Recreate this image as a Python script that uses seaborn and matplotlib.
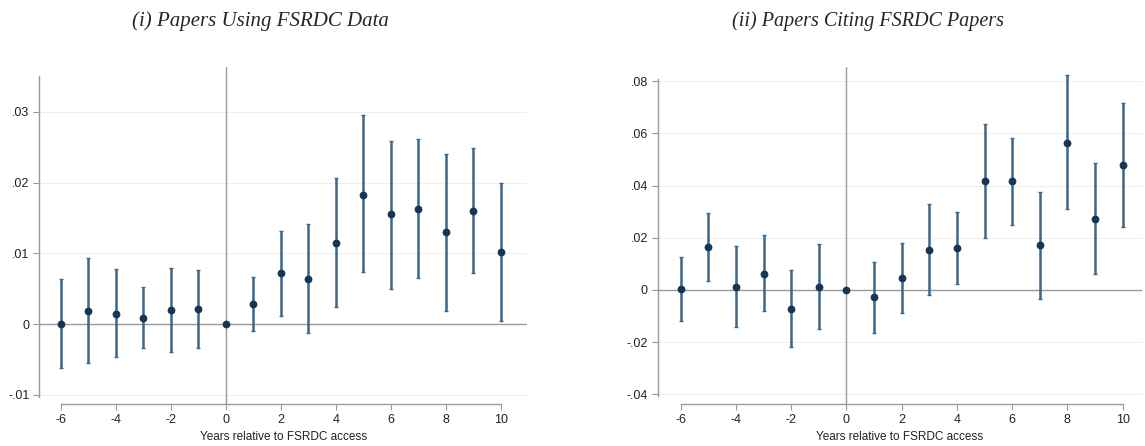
import numpy as np
import pandas as pd
import matplotlib
matplotlib.use("Agg")
import matplotlib.pyplot as plt
import seaborn as sns

years = [-6, -5, -4, -3, -2, -1, 0, 1, 2, 3, 4, 5, 6, 7, 8, 9, 10]

using_est = [0.0, 0.0019, 0.0015, 0.00085, 0.0020, 0.0021, 0.0, 0.0029, 0.0072,
             0.0064, 0.0115, 0.0183, 0.0155, 0.0163, 0.0130, 0.0160, 0.0102]
using_hi = [0.0064, 0.0093, 0.0078, 0.0052, 0.0079, 0.0076, 0.0, 0.0067, 0.0131,
            0.0141, 0.0207, 0.0295, 0.0259, 0.0261, 0.0240, 0.0249, 0.0200]
using_lo = [-0.0062, -0.0055, -0.0047, -0.0034, -0.0039, -0.0033, 0.0, -0.0009, 0.0012,
            -0.0013, 0.0024, 0.0073, 0.0050, 0.0065, 0.0019, 0.0072, 0.0005]

citing_est = [0.0003, 0.0165, 0.0013, 0.0063, -0.0073, 0.0013, 0.0, -0.0028, 0.0045,
              0.0154, 0.0160, 0.0417, 0.0416, 0.0171, 0.0564, 0.0274, 0.0479]
citing_hi = [0.0125, 0.0297, 0.0169, 0.0209, 0.0075, 0.0178, 0.0, 0.0106, 0.0179,
             0.0328, 0.0300, 0.0636, 0.0583, 0.0377, 0.0823, 0.0488, 0.0718]
citing_lo = [-0.0118, 0.0036, -0.0141, -0.0079, -0.0218, -0.0148, 0.0, -0.0164, -0.0088,
             -0.0020, 0.0023, 0.0198, 0.0248, -0.0033, 0.0310, 0.0060, 0.0242]

titles = ["(i) Papers Using FSRDC Data", "(ii) Papers Citing FSRDC Papers"]
xlabel = "Years relative to FSRDC access"
xticks = [-6, -4, -2, 0, 2, 4, 6, 8, 10]
yticks_left = [-0.01, 0, 0.01, 0.02, 0.03]
yticklabels_left = ["-.01", "0", ".01", ".02", ".03"]
yticks_right = [-0.04, -0.02, 0, 0.02, 0.04, 0.06, 0.08]
yticklabels_right = ["-.04", "-.02", "0", ".02", ".04", ".06", ".08"]

sns.set_theme(style="white")
plt.rcParams['font.family'] = ['Liberation Sans', 'DejaVu Sans']

fig = plt.figure(figsize=(11.45, 4.46), dpi=100)
ax1 = fig.add_axes([0.0343, 0.0942, 0.426, 0.7545])
ax2 = fig.add_axes([0.5744, 0.0942, 0.423, 0.7545])

AXC = "#9a9a9a"
BAR = "#3d6687"
DOT = "#143555"

panels = [
    (ax1, using_est, using_lo, using_hi, yticks_left, yticklabels_left,
     (-6.79, 10.95), (-0.01127, 0.03625), (-0.0103, 0.035)),
    (ax2, citing_est, citing_lo, citing_hi, yticks_right, yticklabels_right,
     (-6.83, 10.7), (-0.0437, 0.0853), (-0.0408, 0.0807)),
]

for i, (ax, est, lo, hi, yt, ytl, xl, yl, yb) in enumerate(panels):
    df = pd.DataFrame({"year": years, "est": est, "lo": lo, "hi": hi})
    for y in yt:
        ax.axhline(y, color="#efefef", lw=0.8, zorder=0)
    ax.axhline(0, color=AXC, lw=1.0, zorder=1)
    ax.axvline(0, color=AXC, lw=1.0, zorder=1)
    ax.errorbar(df["year"], df["est"],
                yerr=[df["est"] - df["lo"], df["hi"] - df["est"]],
                fmt="none", ecolor=BAR, elinewidth=1.8, capsize=1.6,
                capthick=1.0, zorder=2)
    sns.scatterplot(data=df, x="year", y="est", ax=ax, color=DOT, s=26,
                    edgecolor=DOT, linewidth=0.5, zorder=3, legend=False)
    ax.set_xlim(*xl)
    ax.set_ylim(*yl)
    ax.set_xticks(xticks)
    ax.set_xticklabels([str(t) for t in xticks])
    ax.set_yticks(yt)
    ax.set_yticklabels(ytl)
    for s in ["top", "right"]:
        ax.spines[s].set_visible(False)
    for s in ["left", "bottom"]:
        ax.spines[s].set_color(AXC)
        ax.spines[s].set_linewidth(1.0)
    ax.spines["bottom"].set_bounds(-6, 10)
    ax.spines["left"].set_bounds(*yb)
    ax.tick_params(axis="both", which="both", direction="out", length=4,
                   width=0.8, color=AXC, labelsize=9, labelcolor="#222222",
                   left=True, bottom=True, pad=3)
    ax.set_xlabel(xlabel, fontsize=8.5, color="#222222", labelpad=4)
    ax.set_ylabel("")
    ax.grid(False)

fig.text(0.2275, 0.953, titles[0], ha="center", va="center", fontsize=15,
         style="italic", family=["Liberation Serif", "DejaVu Serif"])
fig.text(0.7585, 0.953, titles[1], ha="center", va="center", fontsize=14.5,
         style="italic", family=["Liberation Serif", "DejaVu Serif"])

fig.savefig("out.png", dpi=100)
